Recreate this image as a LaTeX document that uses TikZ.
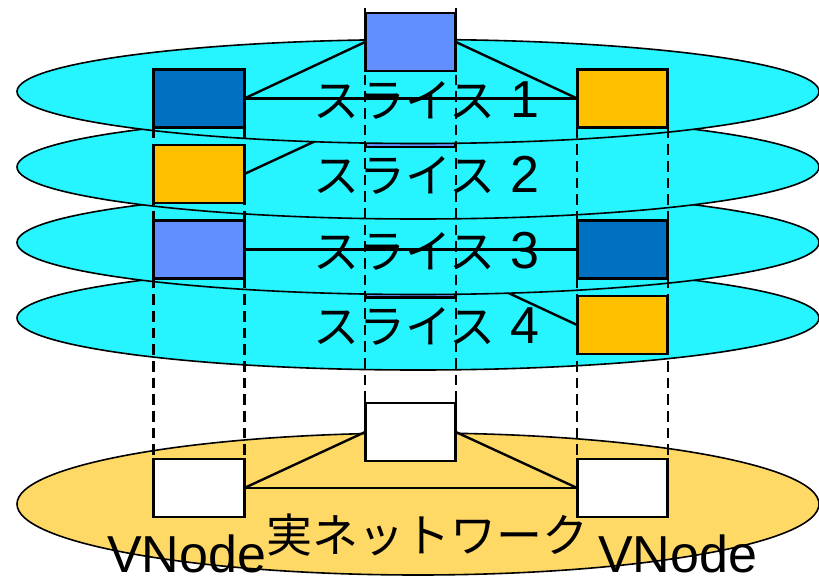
\documentclass[tikz,border=0pt]{standalone}
\usepackage{fontspec}
\setmainfont{Liberation Sans}
\newfontfamily\jp{Noto Sans CJK JP}
\usetikzlibrary{calc}
\definecolor{slicecyan}{RGB}{38,244,255}
\definecolor{realyellow}{RGB}{255,217,102}
\definecolor{darkblue}{RGB}{0,112,192}
\definecolor{lightblue}{RGB}{97,143,255}
\definecolor{amber}{RGB}{255,192,0}
\newcommand\latbig{\rmfamily\fontsize{39pt}{44pt}\selectfont}
\tikzset{
  vbox/.style={draw=black, line width=2.1pt, minimum width=68pt, minimum height=43.5pt, inner sep=0pt, outer sep=0pt},
  link/.style={line width=1.8pt},
  slicering/.style={fill=slicecyan, draw=black, line width=1.2pt},
  realring/.style={fill=realyellow, draw=black, line width=1.2pt},
  vlink/.style={dash pattern=on 8pt off 4.5pt, line width=1.8pt},
  jplabel/.style={anchor=base west, inner sep=0pt, font={\jp\fontsize{34.5pt}{40pt}\selectfont}},
  latlabel/.style={anchor=base west, inner sep=0pt, font=\latbig}
}
\begin{document}
\begin{tikzpicture}[x=0.75pt,y=-0.75pt]
\useasboundingbox (0,0) rectangle (819,578);
% ---------- slice 4
\draw[slicering] (418,318) ellipse [x radius=401, y radius=52];
\node[vbox,fill=lightblue] (M4) at (410.5,268.5) {};
\node[vbox,fill=amber] (R4) at (622.5,325) {};
\draw[link] (M4.east) -- (R4.west);
\node[jplabel] (S4) at (313,343.5) {スライス{\latbig\ 4}};
% ---------- slice 3
\draw[slicering] (418,242.5) ellipse [x radius=401, y radius=52];
\node[vbox,fill=lightblue] (L3) at (199,249.5) {};
\node[vbox,fill=darkblue] (R3) at (622.5,249.5) {};
\draw[link] (L3.east) -- (R3.west);
\node[jplabel] (S3) at (313,268) {スライス{\latbig\ 3}};
% ---------- slice 2
\draw[slicering] (418,167) ellipse [x radius=401, y radius=52];
\node[vbox,fill=amber] (L2) at (199,174) {};
\node[vbox,fill=lightblue] (M2) at (410.5,118) {};
\draw[link] (L2.east) -- (M2.west);
\node[jplabel] (S2) at (313,192.5) {スライス{\latbig\ 2}};
% ---------- slice 1
\draw[slicering] (418,91.5) ellipse [x radius=401, y radius=52];
\node[vbox,fill=darkblue] (L1) at (199,98.5) {};
\node[vbox,fill=lightblue] (M1) at (410.5,42) {};
\node[vbox,fill=amber] (R1) at (622.5,98.5) {};
\draw[link] (L1.east) -- (M1.west);
\draw[link] (M1.east) -- (R1.west);
\draw[link] (L1.east) -- (R1.west);
\node[jplabel] (S1) at (313,117) {スライス{\latbig\ 1}};
% ---------- real network
\draw[realring] (418,504) ellipse [x radius=401, y radius=71];
\node[vbox,fill=white] (RM) at (410.5,432) {};
\node[vbox,fill=white] (RL) at (199,488) {};
\node[vbox,fill=white] (RR) at (622.5,488) {};
\draw[link] (RL.east) -- (RM.west);
\draw[link] (RM.east) -- (RR.west);
\draw[link] (RL.east) -- (RR.west);
\node[jplabel] (RN) at (266,552) {実ネットワーク};
\node[latlabel] (VL) at (107,572) {VNode};
\node[latlabel] (VR) at (598,572) {VNode};
% ---------- vertical dashed mappings
\draw[vlink] (L1.south west) -- (RL.north west);
\draw[vlink] (L1.south east) -- (RL.north east);
\draw[vlink] ($(M1.north west)+(0,-5)$) -- (RM.north west);
\draw[vlink] ($(M1.north east)+(0,-5)$) -- (RM.north east);
\draw[vlink] (R1.south west) -- (RR.north west);
\draw[vlink] (R1.south east) -- (RR.north east);
\end{tikzpicture}
\end{document}
